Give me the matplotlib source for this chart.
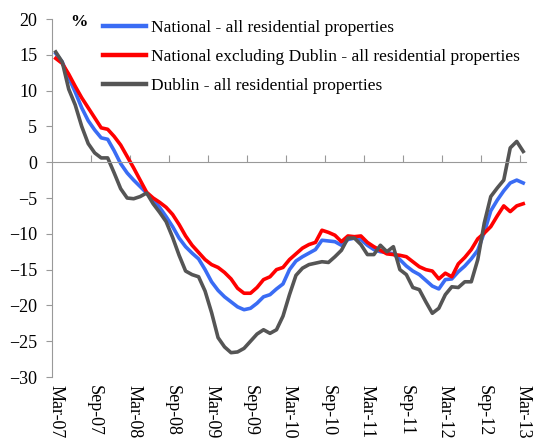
import numpy as np
import matplotlib.pyplot as plt
import matplotlib.transforms as mtransforms

national = [15.2, 14.0, 11.8, 9.8, 7.6, 5.8, 4.5, 3.4, 3.2, 1.6,
            -0.2, -1.5, -2.5, -3.4, -4.3, -5.2, -6.3, -7.6, -9.0, -10.6,
            -11.8, -12.7, -13.5, -15.0, -16.7, -17.9, -18.8, -19.5, -20.2, -20.6,
            -20.4, -19.7, -18.8, -18.5, -17.7, -17.0, -15.0, -13.8, -13.2, -12.7,
            -12.2, -10.9, -11.0, -11.1, -11.6, -10.8, -10.6, -10.8, -11.6, -12.2,
            -12.5, -12.6, -12.8, -13.6, -14.5, -15.2, -15.7, -16.5, -17.3, -17.7,
            -16.4, -16.3, -15.3, -14.5, -13.5, -12.3, -9.8, -6.8, -5.3, -4.0,
            -2.9, -2.5, -2.9]

excl_dublin = [14.5, 13.8, 12.3, 10.6, 9.0, 7.6, 6.2, 4.8, 4.6, 3.6,
               2.4, 0.8, -0.8, -2.5, -4.2, -5.0, -5.6, -6.3, -7.3, -8.7,
               -10.3, -11.6, -12.6, -13.6, -14.3, -14.7, -15.4, -16.3, -17.6, -18.3,
               -18.3, -17.5, -16.4, -16.0, -15.0, -14.7, -13.6, -12.8, -12.0, -11.5,
               -11.2, -9.5, -9.8, -10.2, -11.1, -10.3, -10.4, -10.3, -11.2, -11.8,
               -12.3, -12.8, -12.9, -13.0, -13.2, -13.9, -14.6, -15.0, -15.2, -16.3,
               -15.5, -16.0, -14.2, -13.3, -12.2, -10.7, -9.9, -9.0, -7.5, -6.1,
               -6.9, -6.1, -5.8]

dublin = [15.4, 14.0, 10.2, 8.0, 5.0, 2.6, 1.3, 0.6, 0.6, -1.5,
          -3.7, -5.0, -5.1, -4.8, -4.3, -5.8, -7.0, -8.3, -10.5, -13.0,
          -15.2, -15.7, -16.0, -18.0, -21.0, -24.5, -25.8, -26.6, -26.5, -26.0,
          -25.0, -24.0, -23.4, -23.9, -23.4, -21.5, -18.5, -15.8, -14.8, -14.3,
          -14.1, -13.9, -14.0, -13.2, -12.3, -10.6, -10.6, -11.5, -12.9, -12.9,
          -11.6, -12.5, -11.8, -15.0, -15.7, -17.5, -17.8, -19.5, -21.1, -20.4,
          -18.5, -17.4, -17.5, -16.7, -16.7, -13.6, -8.5, -4.8, -3.6, -2.5,
          2.0, 2.9, 1.5]

tick_labels = ['Mar-07', 'Sep-07', 'Mar-08', 'Sep-08', 'Mar-09', 'Sep-09', 'Mar-10',
               'Sep-10', 'Mar-11', 'Sep-11', 'Mar-12', 'Sep-12', 'Mar-13']

series_names = ['National - all residential properties',
                'National excluding Dublin - all residential properties',
                'Dublin - all residential properties']

plt.rcParams['font.family'] = ['Liberation Serif', 'DejaVu Serif']

fig = plt.figure(figsize=(5.34, 4.41), dpi=100)
ax = fig.add_axes([0.0983, 0.1451, 0.8876, 0.8118])

x = np.arange(len(national))
ax.plot(x, national, color='#3a6cf4', lw=2.6, label=series_names[0])
ax.plot(x, excl_dublin, color='#ff0000', lw=2.6, label=series_names[1])
ax.plot(x, dublin, color='#555555', lw=2.6, label=series_names[2])

ax.set_xlim(-0.5, len(national) - 0.5)
ax.set_ylim(-30, 20)
ax.set_yticks(np.arange(-30, 21, 5))
ax.tick_params(axis='y', direction='out', length=4, color='#999999', labelsize=13, pad=7)

# x axis crosses at zero, labels sit at the bottom
for s in ['top', 'right']:
    ax.spines[s].set_visible(False)
ax.spines['left'].set_color('#999999')
ax.spines['bottom'].set_position(('data', 0))
ax.spines['bottom'].set_color('#999999')
ax.set_xticks(np.arange(5.5, len(national), 6))
ax.tick_params(axis='x', direction='in', length=5, color='#999999', labelbottom=False)

trans = mtransforms.blended_transform_factory(ax.transData, ax.transAxes)
for i, lab in enumerate(tick_labels):
    ax.text(i * 6, -0.022, lab, transform=trans, rotation=270, ha='center', va='top', fontsize=13)

ax.text(0.056, 0.992, '%', transform=ax.transAxes, fontsize=12.5, fontweight='bold',
        ha='center', va='center')

leg = ax.legend(loc='upper left', bbox_to_anchor=(0.092, 1.016), frameon=False, fontsize=12.5,
                handlelength=2.5, handletextpad=0.25, labelspacing=0.72, borderaxespad=0)
for line in leg.get_lines():
    line.set_linewidth(3.2)

fig.savefig('out.png', dpi=100)
